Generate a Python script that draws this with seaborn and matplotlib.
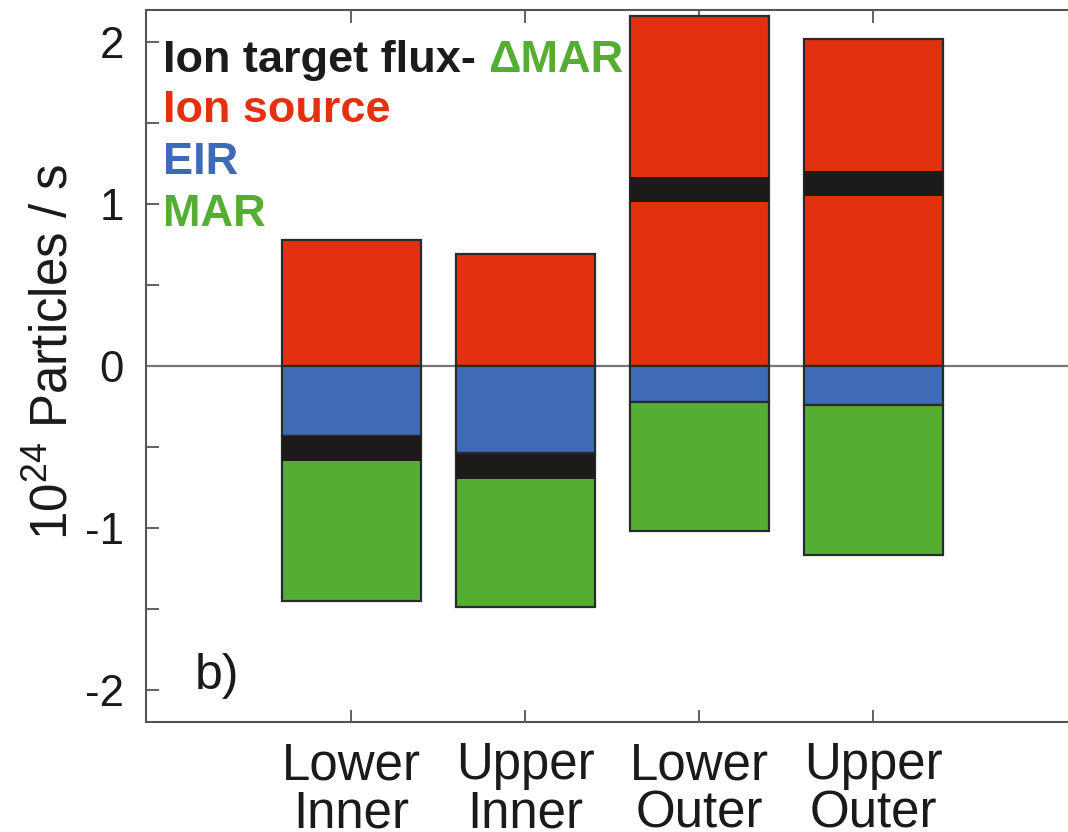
import matplotlib
matplotlib.use("Agg")
import matplotlib.pyplot as plt
import seaborn as sns

# Particle balance per divertor leg (10^24 particles / s)
regions = ["Lower\nInner", "Upper\nInner", "Lower\nOuter", "Upper\nOuter"]
ion_source = [0.78, 0.69, 2.16, 2.02]
eir = [0.43, 0.54, 0.22, 0.24]
mar = [1.02, 0.95, 0.80, 0.93]
target_flux_minus_dmar = [-0.51, -0.62, 1.09, 1.13]

yticks = [-2, -1, 0, 1, 2]
ytick_labels = ["-2", "-1", "0", "1", "2"]
yminor = [-1.5, -0.5, 0.5, 1.5]

sns.set_style("ticks")
plt.rcParams["font.family"] = ["Liberation Sans", "DejaVu Sans"]
plt.rcParams["mathtext.fontset"] = "custom"
plt.rcParams["mathtext.rm"] = "Liberation Sans"
plt.rcParams["mathtext.it"] = "Liberation Sans:italic"
plt.rcParams["mathtext.bf"] = "Liberation Sans:bold"
plt.rcParams["axes.unicode_minus"] = False

RED, BLUE, GREEN, BLACK = "#E3300E", "#3F6AB8", "#55AE32", "#1C1B19"
SPINE = "#555555"

fig = plt.figure(figsize=(10.68, 8.32), dpi=100)
ax = fig.add_axes([146 / 1068, 1 - 722 / 832, 1 - 146 / 1068, 712 / 832])

bar_kw = dict(width=0.8, edgecolor="#2a2a2a", linewidth=1.6, ax=ax,
              saturation=1, errorbar=None, zorder=2)
sns.barplot(x=regions, y=ion_source, color=RED, **bar_kw)
sns.barplot(x=regions, y=[-v for v in eir], color=BLUE, **bar_kw)
sns.barplot(x=regions, y=[-v for v in mar], bottom=[-v for v in eir],
            color=GREEN, **bar_kw)

# thick band marking target flux minus delta-MAR
band = 0.155
sns.barplot(x=regions, y=[band] * len(regions),
            bottom=[v - band / 2 for v in target_flux_minus_dmar],
            color=BLACK, width=0.8, linewidth=0, ax=ax, saturation=1,
            errorbar=None, zorder=3)

ax.axhline(0, color="#777777", lw=1.6, zorder=1)

ax.set_xlim(-1.18, 4.12)
ax.set_ylim(-2.2, 2.2)
ax.set_yticks(yticks)
ax.set_yticklabels(ytick_labels)
ax.set_yticks(yminor, minor=True)

ax.tick_params(axis="y", which="both", direction="in", length=9, width=1.3,
               color=SPINE, pad=16, labelsize=31.5, labelcolor="#1a1a1a")
ax.tick_params(axis="x", direction="in", length=9, width=1.3, color=SPINE,
               top=True, labelsize=36.7, pad=14, labelcolor="#1a1a1a")
for lab in ax.get_xticklabels():
    lab.set_linespacing(0.97)

ax.spines["right"].set_visible(False)
for s in ("left", "top", "bottom"):
    ax.spines[s].set_color(SPINE)
    ax.spines[s].set_linewidth(1.5)

ax.set_xlabel("")
ax.set_ylabel("10$^{24}$ Particles / s", fontsize=36.7, color="#1a1a1a")
ax.yaxis.set_label_coords(-0.073, 0.52)

# colour-coded key
key_size = 32.5
t1 = ax.text(0.018, 0.913, "Ion target flux- ", transform=ax.transAxes,
             fontsize=key_size, fontweight="bold", color=BLACK, va="baseline")
ax.annotate("ΔMAR", xy=(1, 0), xycoords=t1, va="bottom", ha="left",
            fontsize=key_size, fontweight="bold", color=GREEN)
ax.text(0.018, 0.843, "Ion source", transform=ax.transAxes, fontsize=key_size,
        fontweight="bold", color=RED, va="baseline")
ax.text(0.018, 0.770, "EIR", transform=ax.transAxes, fontsize=key_size,
        fontweight="bold", color=BLUE, va="baseline")
ax.text(0.018, 0.697, "MAR", transform=ax.transAxes, fontsize=key_size,
        fontweight="bold", color=GREEN, va="baseline")

ax.text(0.053, 0.046, "b)", transform=ax.transAxes, fontsize=36,
        color="#1a1a1a", va="baseline")

fig.savefig("out.png", dpi=100)
